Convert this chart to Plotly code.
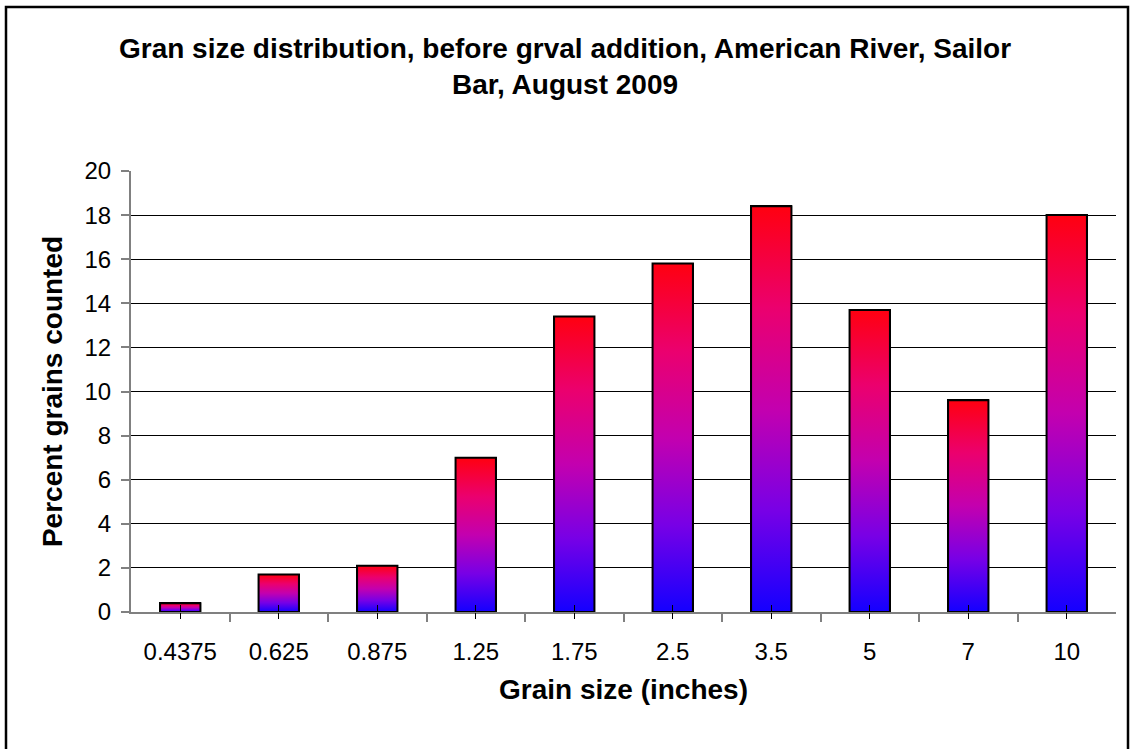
import plotly.graph_objects as go

# ---- data ----
categories = ["0.4375", "0.625", "0.875", "1.25", "1.75", "2.5", "3.5", "5", "7", "10"]
percent_counted = [0.4, 1.7, 2.1, 7.0, 13.4, 15.8, 18.4, 13.7, 9.6, 18.0]
y_ticks = [0, 2, 4, 6, 8, 10, 12, 14, 16, 18, 20]

# ---- style / layout constants ----
W, H = 1130, 749
ML, MR, MT, MB = 131, 14, 171, 137
BAR_W = 0.41
GRADIENT = [[0.0, "#1400ff"], [0.25, "#7800e6"], [0.5, "#c300af"],
            [0.75, "#eb006e"], [1.0, "#ff0010"]]
FONT = "Liberation Sans, Arial, sans-serif"
AXIS_GRAY = "#808080"

pos = list(range(len(categories)))
boundaries = [p - 0.5 for p in pos] + [pos[-1] + 0.5]

fig = go.Figure()

# base bar trace (drawn beneath the gradient bodies)
fig.add_trace(go.Bar(
    x=pos, y=percent_counted, width=BAR_W,
    marker=dict(color="#c300af", line=dict(color="black", width=2)),
    showlegend=False, hovertext=categories,
))

# gradient-filled bar bodies with black outlines (one per bar: own blue->red gradient)
for p, v in zip(pos, percent_counted):
    fig.add_trace(go.Scatter(
        x=[p - BAR_W / 2, p + BAR_W / 2, p + BAR_W / 2, p - BAR_W / 2, p - BAR_W / 2],
        y=[0, 0, v, v, 0],
        mode="lines",
        fill="toself",
        line=dict(width=2, color="black"),
        fillgradient=dict(type="vertical", start=0, stop=v, colorscale=GRADIENT),
        hoverinfo="skip",
        showlegend=False,
    ))

# invisible trace for the secondary x axis (center tick marks below the axis)
fig.add_trace(go.Scatter(x=pos, y=percent_counted, xaxis="x2", mode="markers",
                         marker=dict(opacity=0), hoverinfo="skip", showlegend=False))

pw = W - ML - MR
ph = H - MT - MB

def px_to_paper_x(px):
    return (px - ML) / pw

def px_to_paper_y(py):
    return (H - MB - py) / ph

fig.update_layout(
    width=W, height=H,
    margin=dict(l=ML, r=MR, t=MT, b=MB),
    paper_bgcolor="white", plot_bgcolor="white",
    font=dict(family=FONT, color="black", size=24),
    title=dict(
        text="Gran size distribution, before grval addition, American River, Sailor<br>Bar, August 2009",
        font=dict(family=FONT, size=28, weight="bold", color="black"),
        x=0.5, xref="container", xanchor="center",
        y=1 - 58 / H, yref="container", yanchor="middle",
    ),
    xaxis=dict(
        range=[-0.5, len(categories) - 0.5],
        tickmode="array", tickvals=pos, ticktext=categories,
        ticks="inside", ticklen=7, tickcolor="black", tickwidth=1,
        ticklabelstandoff=17,
        showline=True, linecolor=AXIS_GRAY, linewidth=2,
        showgrid=False, zeroline=False,
        minor=dict(tickmode="array", tickvals=boundaries, ticks="outside",
                   ticklen=8, tickcolor=AXIS_GRAY, tickwidth=1.5, showgrid=False),
        title=dict(text="Grain size (inches)",
                   font=dict(family=FONT, size=28, weight="bold", color="black"),
                   standoff=16),
        fixedrange=True,
    ),
    xaxis2=dict(
        overlaying="x", anchor="y",
        range=[-0.5, len(categories) - 0.5],
        tickmode="array", tickvals=pos, ticks="outside", ticklen=6,
        tickcolor="black", tickwidth=1,
        showticklabels=False, showline=False, showgrid=False, zeroline=False,
    ),
    yaxis=dict(
        range=[0, 20],
        tickmode="array", tickvals=y_ticks,
        ticks="outside", ticklen=8, tickcolor=AXIS_GRAY, tickwidth=1.5,
        ticklabelstandoff=5,
        showline=True, linecolor=AXIS_GRAY, linewidth=2,
        showgrid=True, gridcolor="black", gridwidth=1,
        zeroline=False,
        title=dict(text="Percent grains counted",
                   font=dict(family=FONT, size=28, weight="bold", color="black"),
                   standoff=14),
        fixedrange=True,
    ),
    bargap=0,
    showlegend=False,
)

# outer chart frame
fig.add_shape(type="rect", xref="paper", yref="paper",
              x0=px_to_paper_x(6), x1=px_to_paper_x(1128),
              y0=px_to_paper_y(H + 10), y1=px_to_paper_y(7),
              line=dict(color="black", width=2.5), fillcolor="rgba(0,0,0,0)",
              layer="above")

fig.write_html("out.html")
